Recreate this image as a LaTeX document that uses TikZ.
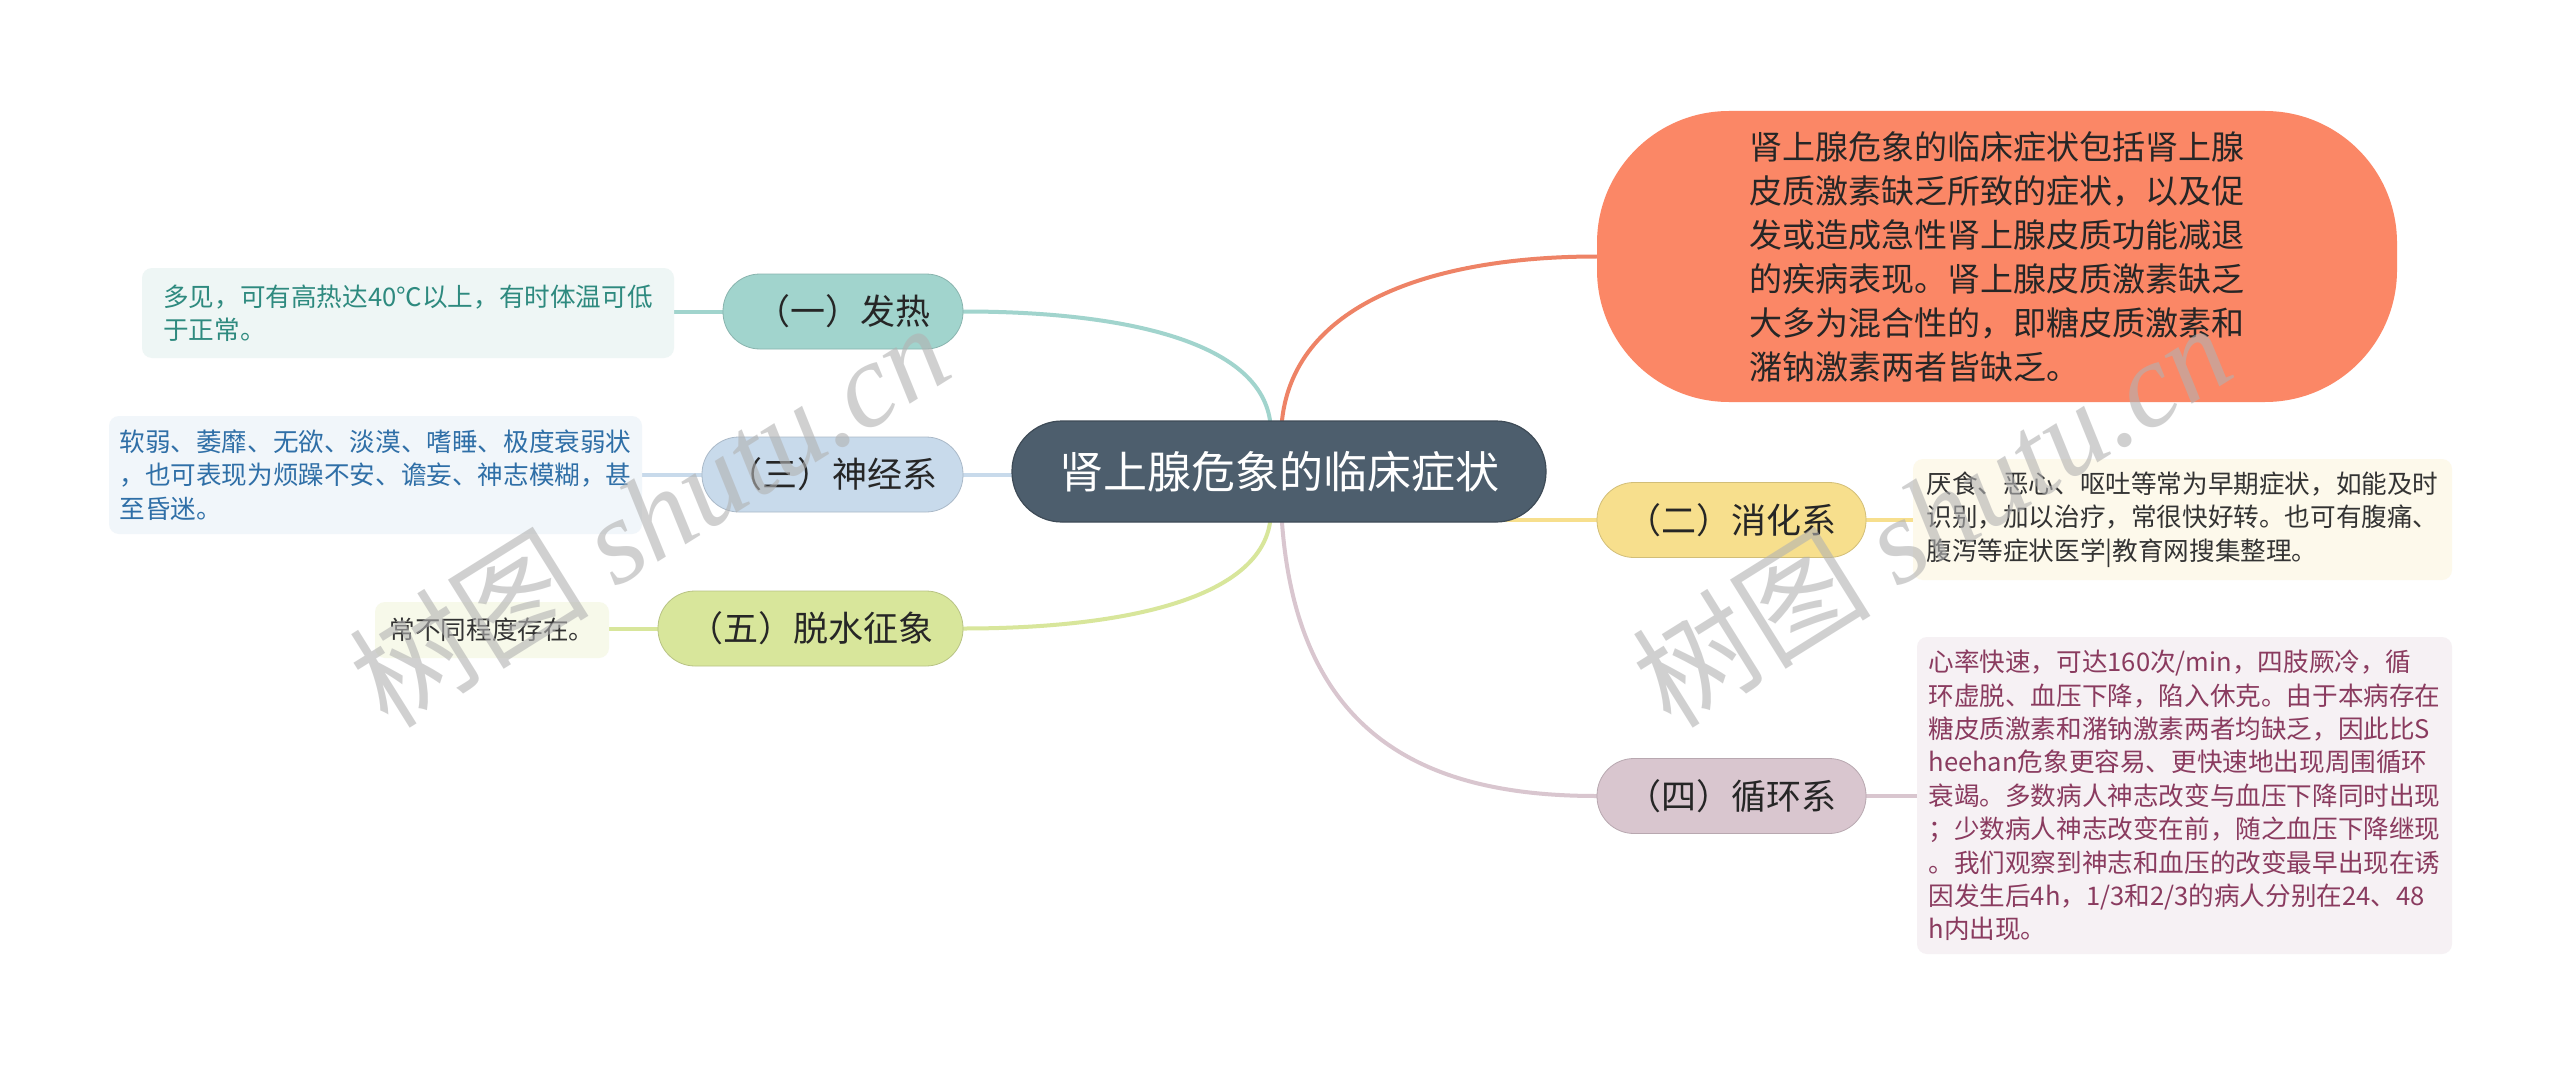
\documentclass[tikz,border=0pt]{standalone}
\usepackage{fontspec}
\setmainfont{Noto Sans CJK SC}
\newfontfamily\wmserif{Liberation Serif}
\usetikzlibrary{backgrounds}
\definecolor{cdark}{HTML}{4D5E6D}
\definecolor{corange}{HTML}{FB8766}
\definecolor{lorange}{HTML}{EE8366}
\definecolor{cyellow}{HTML}{F7DF8D}
\definecolor{cpurple}{HTML}{D9C6CF}
\definecolor{cteal}{HTML}{A1D4CD}
\definecolor{cblue}{HTML}{C8DAEB}
\definecolor{cgreen}{HTML}{D8E69B}
\definecolor{fteal}{HTML}{EEF6F5}
\definecolor{fblue}{HTML}{F1F6FA}
\definecolor{fgreen}{HTML}{F7F9EA}
\definecolor{fyellow}{HTML}{FDF9EB}
\definecolor{fpurple}{HTML}{F6F1F4}
\definecolor{tteal}{HTML}{2E8A7F}
\definecolor{tblue}{HTML}{2F6FA7}
\definecolor{tpurple}{HTML}{8A3B5F}
\definecolor{tdark}{HTML}{333333}
\tikzset{
  centernode/.style={fill=cdark, draw=cdark!80!black, line width=0.6pt, rounded corners=25pt,
    minimum width=267pt, minimum height=50.5pt, text=white, inner sep=0pt,
    font=\fontsize{22}{26}\selectfont},
  bignode/.style={fill=corange, rounded corners=66pt, minimum width=400pt, minimum height=145.5pt,
    align=left, text=black!85, inner sep=0pt, font=\fontsize{16.5}{22}\selectfont},
  lone/.style={rounded corners=18.5pt, minimum height=37.5pt, inner sep=0pt, text=black!85,
    font=\fontsize{17.5}{20}\selectfont},
  detail/.style={rounded corners=5pt, align=left, inner sep=0pt,
    font=\fontsize{12.8}{16.7}\selectfont},
  conn/.style={line width=2pt, line cap=round},
  wmark/.style={rotate=32, text=black!30, opacity=0.6, font=\fontsize{60}{60}\selectfont}
}
\begin{document}
\begin{tikzpicture}[x=0.5pt,y=-0.5pt]
\useasboundingbox (0,0) rectangle (2560,1065);
% center
\node[centernode] (c) at (1279,471.5) {肾上腺危象的临床症状};
% right side
\node[bignode] (o) at (1997,256.5) {肾上腺危象的临床症状包括肾上腺\\皮质激素缺乏所致的症状，以及促\\发或造成急性肾上腺皮质功能减退\\的疾病表现。肾上腺皮质激素缺乏\\大多为混合性的，即糖皮质激素和\\潴钠激素两者皆缺乏。};
\node[lone, fill=cyellow, draw=cyellow!85!black, line width=0.4pt, minimum width=134.5pt] (y1) at (1731.5,520) {（二）消化系};
\node[detail, fill=fyellow, text=tdark, minimum width=269.5pt, minimum height=60.5pt] (y2) at (2182.5,519.5) {厌食、恶心、呕吐等常为早期症状，如能及时\\识别，加以治疗，常很快好转。也可有腹痛、\\腹泻等症状医学|教育网搜集整理。};
\node[lone, fill=cpurple, draw=cpurple!85!black, line width=0.4pt, minimum width=134.5pt] (p1) at (1731.5,796) {（四）循环系};
\node[detail, fill=fpurple, text=tpurple, minimum width=267.5pt, minimum height=158.5pt] (p2) at (2184.5,795.5) {心率快速，可达160次/min，四肢厥冷，循\\环虚脱、血压下降，陷入休克。由于本病存在\\糖皮质激素和潴钠激素两者均缺乏，因此比S\\heehan危象更容易、更快速地出现周围循环\\衰竭。多数病人神志改变与血压下降同时出现\\；少数病人神志改变在前，随之血压下降继现\\。我们观察到神志和血压的改变最早出现在诱\\因发生后4h，1/3和2/3的病人分别在24、48\\h内出现。};
% left side
\node[lone, fill=cteal, draw=cteal!85!black, line width=0.4pt, minimum width=120pt] (t1) at (843,311.5) {（一）发热};
\node[detail, fill=fteal, text=tteal, minimum width=266pt, minimum height=45pt] (t2) at (408,313) {多见，可有高热达40℃以上，有时体温可低\\于正常。};
\node[lone, fill=cblue, draw=cblue!85!black, line width=0.4pt, minimum width=130.5pt] (b1) at (832.5,474.5) {（三）神经系};
\node[detail, fill=fblue, text=tblue, minimum width=266.5pt, minimum height=59pt] (b2) at (375.5,475) {软弱、萎靡、无欲、淡漠、嗜睡、极度衰弱状\\，也可表现为烦躁不安、谵妄、神志模糊，甚\\至昏迷。};
\node[lone, fill=cgreen, draw=cgreen!85!black, line width=0.4pt, minimum width=152.5pt] (g1) at (810.5,628.5) {（五）脱水征象};
\node[detail, fill=fgreen, text=tdark, minimum width=117pt, minimum height=28pt] (g2) at (492,630) {常不同程度存在。};
% connectors
\begin{scope}[on background layer]
\fill[white] (0,0) rectangle (2560,1065);
\coordinate (ct) at ([xshift=-4.5pt]c.north);
\coordinate (ct2) at ([xshift=1.5pt]c.north);
\coordinate (cb) at ([xshift=-4.5pt]c.south);
\coordinate (cb2) at ([xshift=1.5pt]c.south);
\draw[conn, color=cteal] (ct) .. controls (1258,340) and (1120,311.5) .. (t1.east);
\draw[conn, color=lorange] (ct2) .. controls (1295,300) and (1440,256.5) .. (o.west);
\draw[conn, color=cgreen] (cb) .. controls (1258,600) and (1120,628.5) .. (g1.east);
\draw[conn, color=cpurple] (cb2) .. controls (1298,740) and (1430,796) .. (p1.west);
\draw[conn, color=cblue] (c.west |- b1.east) -- (b1.east);
\draw[conn, color=cyellow] (c.center |- y1.west) -- (y1.west);
\draw[conn, color=cteal] (t1.west) -- (t2.east |- t1.west);
\draw[conn, color=cblue] (b1.west) -- (b2.east |- b1.west);
\draw[conn, color=cgreen] (g1.west) -- (g2.east |- g1.west);
\draw[conn, color=cyellow] (y1.east) -- (y2.west |- y1.east);
\draw[conn, color=cpurple] (p1.east) -- (p2.west |- p1.east);
\end{scope}
% watermarks
\node[wmark] (w1) at (649,514) {树图 {\wmserif\itshape shutu.cn}};
\node[wmark] (w2) at (1931,514) {树图 {\wmserif\itshape shutu.cn}};
\end{tikzpicture}
\end{document}
